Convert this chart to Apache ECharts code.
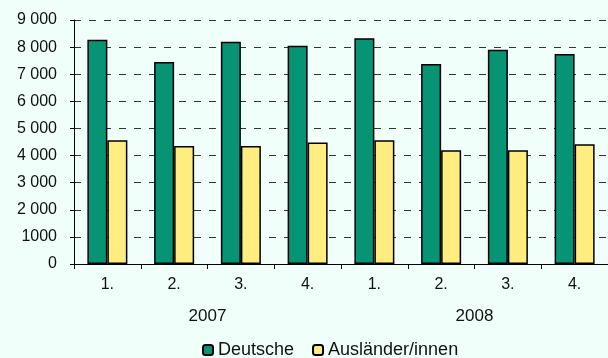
<!DOCTYPE html>
<html><head><meta charset="utf-8">
<script src="https://cdn.jsdelivr.net/npm/echarts@6/dist/echarts.min.js"></script>
<style>html,body{margin:0;padding:0;background:#F0FFF9;}#c{width:608px;height:358px;}</style>
</head><body><div id="c"></div>
<script>
var quarters = ['1.', '2.', '3.', '4.', '1.', '2.', '3.', '4.'];
var years = ['2007', '2008'];
var deutsche = [8270, 7450, 8200, 8050, 8330, 7380, 7900, 7750];
var auslaender = [4560, 4350, 4350, 4480, 4560, 4200, 4200, 4420];
var yTickLabels = ['0', '1000', '2 000', '3 000', '4 000', '5 000', '6 000', '7 000', '8 000', '9 000'];
var seriesNames = ['Deutsche', 'Ausländer/innen'];

var font = "'Liberation Sans', Arial, sans-serif";
var chart = echarts.init(document.getElementById('c'), null, {renderer: 'canvas'});
chart.setOption({
  backgroundColor: '#F0FFF9',
  animation: false,
  grid: {left: 74, right: 0, top: 20, bottom: 94, containLabel: false},
  legend: {
    data: seriesNames,
    left: 197, top: 336, padding: 5,
    itemWidth: 10, itemHeight: 10, itemGap: 18,
    textStyle: {fontFamily: font, fontSize: 18, color: '#111'}
  },
  xAxis: [{
    type: 'category', data: quarters, position: 'bottom',
    axisLine: {lineStyle: {color: '#000', width: 1}},
    axisTick: {show: true, length: 5, alignWithLabel: false, lineStyle: {color: '#000'}},
    axisLabel: {fontFamily: font, fontSize: 16, color: '#111', margin: 13, interval: 0}
  }, {
    type: 'category', data: years, position: 'bottom',
    axisLine: {show: false}, axisTick: {show: false},
    axisLabel: {fontFamily: font, fontSize: 17, color: '#111', margin: 44}
  }],
  yAxis: {
    type: 'value', min: 0, max: 9000, interval: 1000,
    axisLine: {show: true, lineStyle: {color: '#000', width: 1}},
    axisTick: {show: true, length: 4, lineStyle: {color: '#000'}},
    splitLine: {show: true, lineStyle: {color: '#333', width: 1, type: [7, 8]}},
    axisLabel: {fontFamily: font, fontSize: 16, color: '#111', margin: 17,
      formatter: function (v) { return yTickLabels[Math.round(v / 1000)]; }}
  },
  series: [{
    name: seriesNames[0], type: 'bar', data: deutsche, xAxisIndex: 0,
    barWidth: 20, barGap: '0%',
    itemStyle: {color: '#079474', borderColor: '#000', borderWidth: 1.5}
  }, {
    name: seriesNames[1], type: 'bar', data: auslaender, xAxisIndex: 0,
    barWidth: 20, barGap: '0%',
    itemStyle: {color: '#FFEE7F', borderColor: '#000', borderWidth: 1.5}
  }]
});
</script></body></html>
